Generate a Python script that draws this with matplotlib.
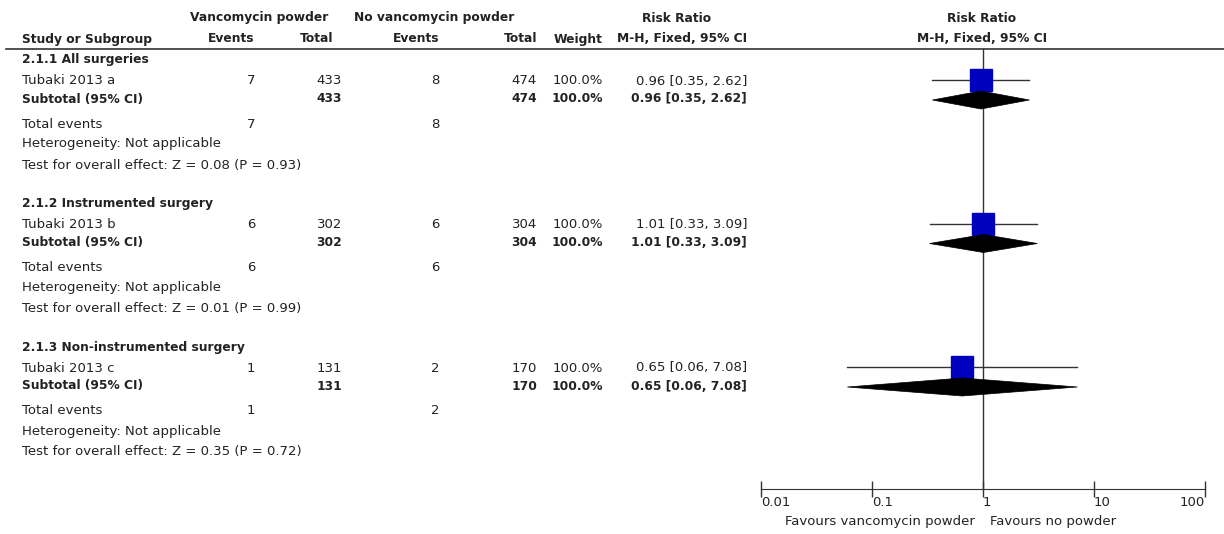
import matplotlib
matplotlib.use('Agg')
import matplotlib.pyplot as plt
from matplotlib.patches import Polygon

matplotlib.rcParams['font.family'] = ['DejaVu Sans']
matplotlib.rcParams['font.size'] = 9.5

# data
groups = ['2.1.1 All surgeries', '2.1.2 Instrumented surgery', '2.1.3 Non-instrumented surgery']
studies = ['Tubaki 2013 a', 'Tubaki 2013 b', 'Tubaki 2013 c']
ev_vanc = [7, 6, 1]
tot_vanc = [433, 302, 131]
ev_none = [8, 6, 2]
tot_none = [474, 304, 170]
weights = [100.0, 100.0, 100.0]
rr = [0.96, 1.01, 0.65]
rr_lo = [0.35, 0.33, 0.06]
rr_hi = [2.62, 3.09, 7.08]
z_vals = ['0.08', '0.01', '0.35']
p_vals = ['0.93', '0.99', '0.72']
ticks = [0.01, 0.1, 1, 10, 100]
tick_labels = ['0.01', '0.1', '1', '10', '100']

W, H = 1224, 534
fig = plt.figure(figsize=(W / 100, H / 100), dpi=100)
ax = fig.add_axes([0, 0, 1, 1])
ax.set_xlim(0, W)
ax.set_ylim(H, 0)
ax.axis('off')

col = '#222222'
txt = dict(color=col, va='center')
bold = dict(color=col, va='center', fontweight='bold', fontsize=8.8)

# header
ax.text(259, 18, 'Vancomycin powder', ha='center', **bold)
ax.text(434, 18, 'No vancomycin powder', ha='center', **bold)
ax.text(677, 18, 'Risk Ratio', ha='center', **bold)
ax.text(982, 18, 'Risk Ratio', ha='center', **bold)
ax.text(22, 39, 'Study or Subgroup', ha='left', **bold)
ax.text(254, 39, 'Events', ha='right', **bold)
ax.text(333, 39, 'Total', ha='right', **bold)
ax.text(439, 39, 'Events', ha='right', **bold)
ax.text(537, 39, 'Total', ha='right', **bold)
ax.text(603, 39, 'Weight', ha='right', **bold)
ax.text(747, 39, 'M-H, Fixed, 95% CI', ha='right', **bold)
ax.text(982, 39, 'M-H, Fixed, 95% CI', ha='center', **bold)
ax.plot([6, W], [49, 49], color='#333333', lw=1.2)

# forest axis
x0, x1 = 761, 1205
fx = fig.add_axes([x0 / W, 0, (x1 - x0) / W, 1])
fx.set_xscale('log')
fx.set_xlim(0.01, 100)
fx.set_ylim(H, 0)
fx.patch.set_alpha(0)
for s in ['top', 'left', 'right']:
    fx.spines[s].set_visible(False)
fx.spines['bottom'].set_position(('data', 489))
fx.spines['bottom'].set_color('#333333')
fx.set_yticks([])
fx.set_xticks(ticks)
fx.set_xticklabels(tick_labels)
fx.minorticks_off()
fx.tick_params(axis='x', direction='inout', length=12, width=1, color='#333333',
               labelcolor=col, labelsize=9.5, pad=-1)
labs = fx.get_xticklabels()
for lb in labs:
    lb.set_ha('left')
labs[-1].set_ha('right')
fx.plot([1, 1], [49, 489], color='#333333', lw=1)

offs = [0, 21, 39, 64, 84, 105]
bases = [60, 203.5, 347]
for i in range(3):
    b = bases[i]
    y = [b + o for o in offs]
    ax.text(22, y[0], groups[i], ha='left', **bold)
    ax.text(22, y[1], studies[i], ha='left', **txt)
    ax.text(255, y[1], str(ev_vanc[i]), ha='right', **txt)
    ax.text(342, y[1], str(tot_vanc[i]), ha='right', **txt)
    ax.text(440, y[1], str(ev_none[i]), ha='right', **txt)
    ax.text(537, y[1], str(tot_none[i]), ha='right', **txt)
    ax.text(603, y[1], '%.1f%%' % weights[i], ha='right', **txt)
    ci = '%.2f [%.2f, %.2f]' % (rr[i], rr_lo[i], rr_hi[i])
    ax.text(747, y[1], ci, ha='right', **txt)
    ax.text(22, y[2], 'Subtotal (95% CI)', ha='left', **bold)
    ax.text(342, y[2], str(tot_vanc[i]), ha='right', **bold)
    ax.text(537, y[2], str(tot_none[i]), ha='right', **bold)
    ax.text(603, y[2], '%.1f%%' % weights[i], ha='right', **bold)
    ax.text(747, y[2], ci, ha='right', **bold)
    ax.text(22, y[3], 'Total events', ha='left', **txt)
    ax.text(255, y[3], str(ev_vanc[i]), ha='right', **txt)
    ax.text(440, y[3], str(ev_none[i]), ha='right', **txt)
    ax.text(22, y[4], 'Heterogeneity: Not applicable', ha='left', **txt)
    ax.text(22, y[5], 'Test for overall effect: Z = %s (P = %s)' % (z_vals[i], p_vals[i]),
            ha='left', **txt)

    # study CI and square
    yc = y[1] - 1
    fx.plot([rr_lo[i], rr_hi[i]], [yc, yc], color='#333333', lw=1, zorder=3)
    fx.plot(rr[i], yc, marker='s', markersize=16, color='#0000bf', zorder=4, linestyle='none')
    # subtotal diamond
    yd = y[2] + 1
    dia = Polygon([(rr_lo[i], yd), (rr[i], yd - 9), (rr_hi[i], yd), (rr[i], yd + 9)],
                  closed=True, facecolor='black', edgecolor='black', lw=0.5, zorder=5)
    fx.add_patch(dia)

ax.text(975, 522, 'Favours vancomycin powder', ha='right', **txt)
ax.text(990, 522, 'Favours no powder', ha='left', **txt)

fig.savefig('out.png', dpi=100)
